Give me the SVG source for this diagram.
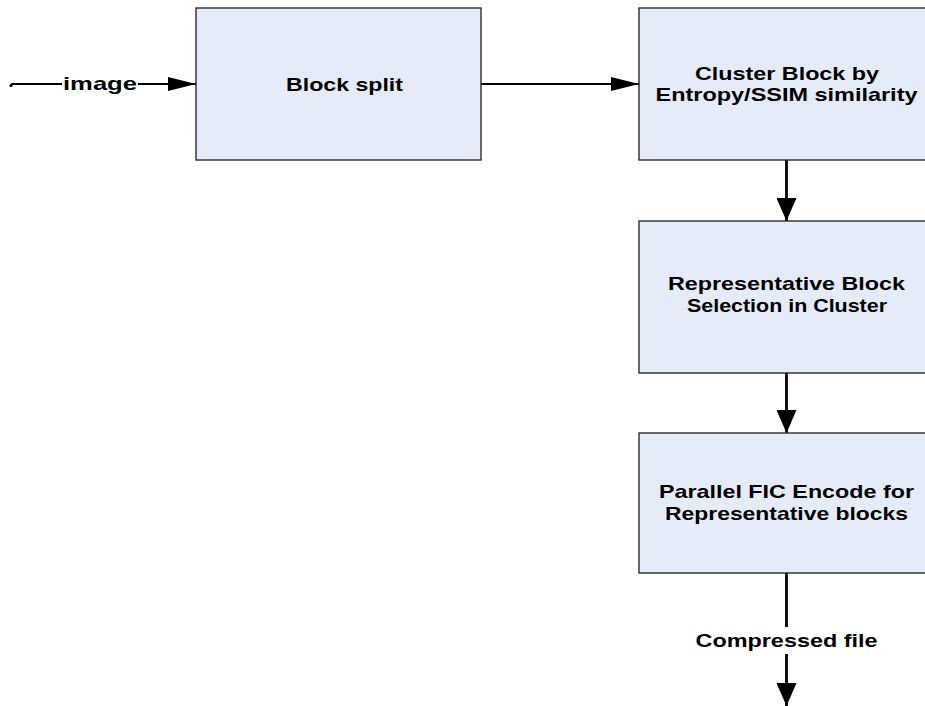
<svg xmlns="http://www.w3.org/2000/svg" width="925" height="706" viewBox="0 0 925 706">
  <style>
    .box { fill: #e6ecf7; stroke: #2b2b2b; stroke-width: 1.4; }
    .lbl { font-family: "Liberation Sans", Arial, sans-serif; font-weight: bold; font-size: 19px; fill: #000; text-anchor: middle; }
    .hline { fill: none; stroke: #000; stroke-width: 2; }
    .vline { fill: none; stroke: #000; stroke-width: 2.8; }
  </style>
  <defs>
    <marker id="headH" markerUnits="userSpaceOnUse" markerWidth="28" markerHeight="14" refX="28" refY="7" orient="auto">
      <polygon points="0,0 28,7 0,14" fill="#000"/>
    </marker>
    <marker id="headV" markerUnits="userSpaceOnUse" markerWidth="23" markerHeight="20" refX="23" refY="10" orient="auto">
      <polygon points="0,0 23,10 0,20" fill="#000"/>
    </marker>
  </defs>

  <rect width="925" height="706" fill="#ffffff"/>

  <g id="connectors">
    <!-- input line with label -->
    <circle cx="11" cy="85.5" r="1.6" fill="#000"/>
    <path class="hline" d="M11,84 L62,84"/>
    <path class="hline" d="M138,84 L196,84" marker-end="url(#headH)"/>
    <text class="lbl" x="100" y="90" textLength="74" lengthAdjust="spacingAndGlyphs">image</text>
    <!-- block split to clustering -->
    <path class="hline" d="M481,84 L639,84" marker-end="url(#headH)"/>
    <!-- vertical chain -->
    <path class="vline" d="M786.5,160 L786.5,221" marker-end="url(#headV)"/>
    <path class="vline" d="M786.5,373 L786.5,433" marker-end="url(#headV)"/>
    <path class="vline" d="M786.5,573 L786.5,627"/>
    <path class="vline" d="M786.5,654 L786.5,706" marker-end="url(#headV)"/>
    <text class="lbl" x="786.5" y="647" textLength="182" lengthAdjust="spacingAndGlyphs">Compressed file</text>
  </g>

  <g id="block-split">
    <rect class="box" x="196" y="8" width="285" height="152"/>
    <text class="lbl" x="344.5" y="90.5" textLength="117" lengthAdjust="spacingAndGlyphs">Block split</text>
  </g>

  <g id="cluster">
    <rect class="box" x="639" y="8" width="296" height="152"/>
    <text class="lbl" x="787" y="80" textLength="184" lengthAdjust="spacingAndGlyphs">Cluster Block by</text>
    <text class="lbl" x="786.5" y="101" textLength="262" lengthAdjust="spacingAndGlyphs">Entropy/SSIM similarity</text>
  </g>

  <g id="representative">
    <rect class="box" x="639" y="221" width="296" height="152"/>
    <text class="lbl" x="786.5" y="290" textLength="237" lengthAdjust="spacingAndGlyphs">Representative Block</text>
    <text class="lbl" x="787" y="312" textLength="200" lengthAdjust="spacingAndGlyphs">Selection in Cluster</text>
  </g>

  <g id="encode">
    <rect class="box" x="639" y="433" width="296" height="140"/>
    <text class="lbl" x="786.5" y="498" textLength="255" lengthAdjust="spacingAndGlyphs">Parallel FIC Encode for</text>
    <text class="lbl" x="786.5" y="520" textLength="243" lengthAdjust="spacingAndGlyphs">Representative blocks</text>
  </g>
</svg>
